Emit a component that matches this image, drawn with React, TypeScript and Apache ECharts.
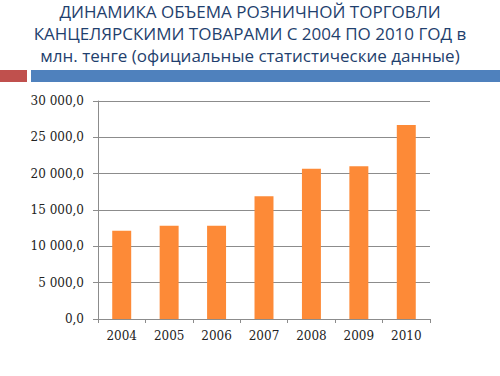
import React, { useEffect, useRef } from "react";
import * as echarts from "echarts";

const years = ["2004", "2005", "2006", "2007", "2008", "2009", "2010"];
const values = [12150, 12840, 12840, 16880, 20690, 21010, 26700];
const titleLines = [
  "ДИНАМИКА ОБЪЕМА РОЗНИЧНОЙ ТОРГОВЛИ",
  "КАНЦЕЛЯРСКИМИ ТОВАРАМИ С 2004 ПО 2010 ГОД в",
  "млн. тенге (официальные статистические данные)",
];

function fmt(v: number): string {
  const s = Math.round(v).toString().replace(/\B(?=(\d{3})+(?!\d))/g, " ");
  return s + ",0";
}

export default function App() {
  const ref = useRef<HTMLDivElement>(null);
  useEffect(() => {
    if (!ref.current) return;
    const chart = echarts.init(ref.current, null, { renderer: "svg" });
    chart.setOption({
      animation: false,
      backgroundColor: "#ffffff",
      title: {
        text: titleLines.join("\n"),
        left: "center",
        top: -5,
        textStyle: {
          fontFamily: "Open Sans",
          fontSize: 17,
          fontWeight: "normal",
          color: "#1F3F6E",
          lineHeight: 22,
        },
      },
      graphic: [
        { type: "rect", shape: { x: 0, y: 70, width: 27, height: 12 }, style: { fill: "#C0504D" } },
        { type: "rect", shape: { x: 31, y: 70, width: 469, height: 12 }, style: { fill: "#4F81BD" } },
      ],
      grid: { left: 98, right: 70, top: 101, bottom: 57 },
      xAxis: {
        type: "category",
        data: years,
        axisLine: { lineStyle: { color: "#8c8c8c" } },
        axisTick: { show: true, length: 4, lineStyle: { color: "#8c8c8c" } },
        axisLabel: {
          margin: 11,
          fontFamily: "DejaVu Serif",
          fontSize: 12,
          color: "#222",
        },
      },
      yAxis: {
        type: "value",
        min: 0,
        max: 30000,
        interval: 5000,
        axisLine: { show: true, lineStyle: { color: "#8c8c8c" } },
        axisTick: { show: true, length: 5, lineStyle: { color: "#8c8c8c" } },
        splitLine: { lineStyle: { color: "#8c8c8c" } },
        axisLabel: {
          margin: 14,
          fontFamily: "DejaVu Serif",
          fontSize: 12,
          color: "#222",
          formatter: (v: number) => fmt(v),
        },
      },
      series: [
        {
          type: "bar",
          data: values,
          barWidth: "40%",
          itemStyle: { color: "#FD8A37" },
        },
      ],
    });
    return () => chart.dispose();
  }, []);
  return <div ref={ref} style={{ width: 500, height: 376, position: "absolute", left: 0, top: 0 }} />;
}
